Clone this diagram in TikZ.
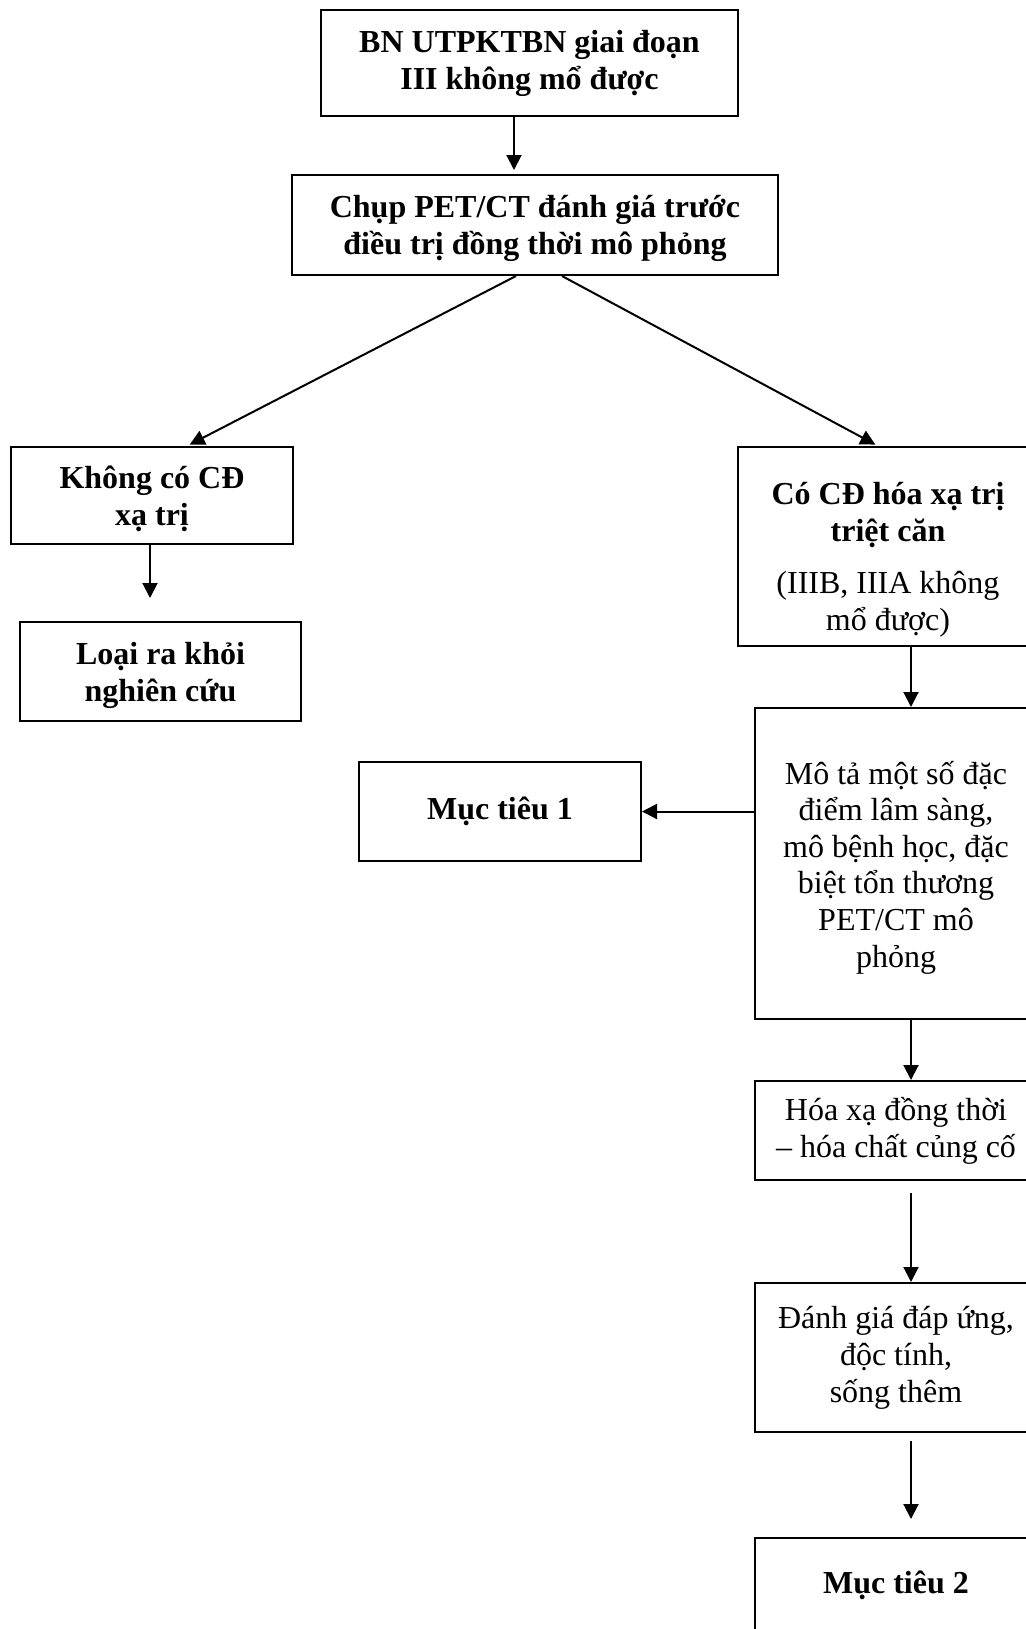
\documentclass[tikz,border=0pt]{standalone}
\usepackage{fontspec}
\setmainfont{Liberation Serif}
\usetikzlibrary{arrows.meta,calc}
\newcommand\pushdown[2]{\raisebox{0pt}[\dimexpr\height+#1\relax]{#2}}
\begin{document}
\begin{tikzpicture}[x=0.5pt,y=-0.5pt,
  box/.style={draw,line width=1pt,inner sep=0pt,align=center,
    font=\fontsize{16}{18.5}\selectfont},
  boldbox/.style={box,font=\fontsize{16}{18.5}\selectfont\bfseries},
  arr/.style={line width=1pt,-{Triangle[length=7.5pt,width=7.5pt]}}]
\useasboundingbox (0,0) rectangle (1026,1629);
\clip (0,0) rectangle (1026,1629);
\fill[white] (0,0) rectangle (1026,1629);
% nodes
\node[boldbox,minimum width=208.5pt,minimum height=53pt] (b1) at (529.5,63)
  {BN UTPKTBN giai đoạn\\III không mổ được};
\node[boldbox,minimum width=243pt,minimum height=50pt] (b2) at (535,225)
  {\pushdown{3pt}{Chụp PET/CT đánh giá trước}\\điều trị đồng thời mô phỏng};
\node[boldbox,minimum width=141pt,minimum height=48.5pt] (b3) at (152,495.5)
  {\pushdown{3pt}{Không có CĐ}\\xạ trị};
\node[boldbox,minimum width=140.5pt,minimum height=49.5pt] (b4) at (160.5,671.5)
  {\pushdown{4pt}{Loại ra khỏi}\\nghiên cứu};
\node[box,minimum width=150pt,minimum height=99.5pt] (b5) at (888,546.5)
  {\pushdown{13.5pt}{\textbf{Có CĐ hóa xạ trị}}\\\textbf{triệt căn}\\[7.5pt](IIIB, IIIA không\\mổ được)};
\node[box,minimum width=141pt,minimum height=155.5pt,
  font=\fontsize{16}{18.3}\selectfont] (b6) at (896,863.5)
  {\pushdown{4pt}{Mô tả một số đặc}\\điểm lâm sàng,\\mô bệnh học, đặc\\biệt tổn thương\\PET/CT mô\\phỏng};
\node[boldbox,minimum width=141pt,minimum height=49.5pt] (m1) at (500,811.5)
  {Mục tiêu 1};
\node[box,minimum width=141pt,minimum height=49.5pt] (b7) at (896,1130.5)
  {Hóa xạ đồng thời\\– hóa chất củng cố};
\node[box,minimum width=141pt,minimum height=74.5pt] (b8) at (896,1357.5)
  {Đánh giá đáp ứng,\\độc tính,\\sống thêm};
\node[boldbox,minimum width=141pt,minimum height=47pt] (b9) at (896,1585)
  {Mục tiêu 2};
% connectors
\draw[arr,shorten >=2pt] ($(b1.south)+(-15.5,0)$) -- ($(b2.north)+(-21,0)$);
\draw[arr,shorten >=1.5pt] ($(b2.south)+(-19,0)$) -- ($(b3.north)+(35,0)$);
\draw[arr,shorten >=1.5pt] ($(b2.south)+(27,0)$) -- ($(b5.north)+(-10,0)$);
\draw[arr,shorten >=11.5pt] ($(b3.south)+(-2,0)$) -- ($(b4.north)+(-10.5,0)$);
\draw[arr] ($(b5.south)+(23,0)$) -- ($(b6.north)+(15,0)$);
\draw[arr] (b6.west |- m1.east) -- (m1.east);
\draw[arr] ($(b6.south)+(15,0)$) -- ($(b7.north)+(15,0)$);
\draw[arr,shorten <=6pt] ($(b7.south)+(15,0)$) -- ($(b8.north)+(15,0)$);
\draw[arr,shorten <=4pt,shorten >=9pt] ($(b8.south)+(15,0)$) -- ($(b9.north)+(15,0)$);
\end{tikzpicture}
\end{document}
